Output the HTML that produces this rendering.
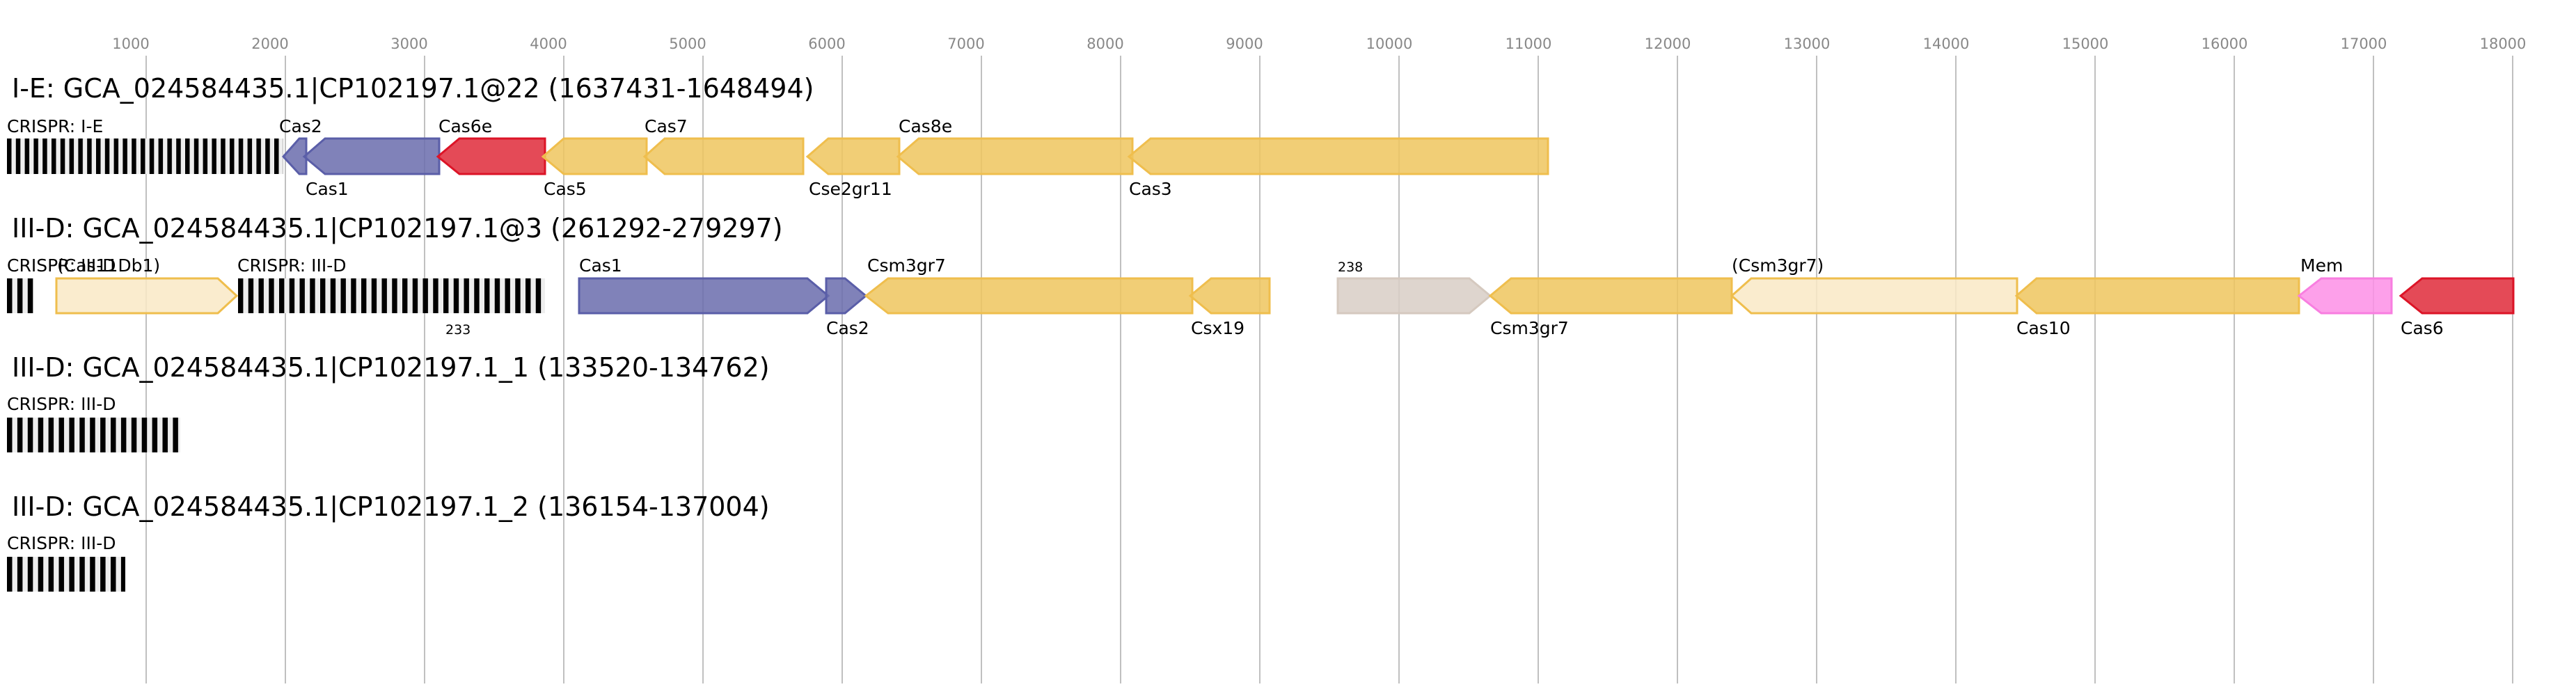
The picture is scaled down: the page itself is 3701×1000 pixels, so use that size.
<!DOCTYPE html>
<html><head><meta charset="utf-8"><style>
html,body{margin:0;padding:0;background:#fff;}
svg{display:block;}
text{font-family:"DejaVu Sans","Liberation Sans",sans-serif;}
</style></head><body>
<svg width="3701" height="1000" viewBox="0 0 3701 1000" xmlns="http://www.w3.org/2000/svg">
<defs>
<pattern id="c1" x="10" y="0" width="12.8" height="10" patternUnits="userSpaceOnUse"><rect width="12.8" height="10" fill="#eee"/><rect width="6.5" height="10" fill="#000"/></pattern>
<pattern id="c2" x="10" y="0" width="14.9" height="10" patternUnits="userSpaceOnUse"><rect width="14.9" height="10" fill="#eee"/><rect width="7.5" height="10" fill="#000"/></pattern>
<pattern id="c3" x="342" y="0" width="14.75" height="10" patternUnits="userSpaceOnUse"><rect width="14.75" height="10" fill="#eee"/><rect width="7.4" height="10" fill="#000"/></pattern>
</defs>
<g font-size="21" fill="#888" text-anchor="middle">
<text x="188" y="70">1000</text><text x="388" y="70">2000</text><text x="588" y="70">3000</text><text x="788" y="70">4000</text><text x="988" y="70">5000</text><text x="1188" y="70">6000</text><text x="1388" y="70">7000</text><text x="1588" y="70">8000</text><text x="1788" y="70">9000</text><text x="1996" y="70">10000</text><text x="2196" y="70">11000</text><text x="2396" y="70">12000</text><text x="2596" y="70">13000</text><text x="2796" y="70">14000</text><text x="2996" y="70">15000</text><text x="3196" y="70">16000</text><text x="3396" y="70">17000</text><text x="3596" y="70">18000</text>
</g>
<g stroke="#c0c0c0" stroke-width="2">
<line x1="210" y1="80" x2="210" y2="982"/><line x1="410" y1="80" x2="410" y2="982"/><line x1="610" y1="80" x2="610" y2="982"/><line x1="810" y1="80" x2="810" y2="982"/><line x1="1010" y1="80" x2="1010" y2="982"/><line x1="1210" y1="80" x2="1210" y2="982"/><line x1="1410" y1="80" x2="1410" y2="982"/><line x1="1610" y1="80" x2="1610" y2="982"/><line x1="1810" y1="80" x2="1810" y2="982"/><line x1="2010" y1="80" x2="2010" y2="982"/><line x1="2210" y1="80" x2="2210" y2="982"/><line x1="2410" y1="80" x2="2410" y2="982"/><line x1="2610" y1="80" x2="2610" y2="982"/><line x1="2810" y1="80" x2="2810" y2="982"/><line x1="3010" y1="80" x2="3010" y2="982"/><line x1="3210" y1="80" x2="3210" y2="982"/><line x1="3410" y1="80" x2="3410" y2="982"/><line x1="3610" y1="80" x2="3610" y2="982"/>
</g>
<g font-size="38" fill="#000">
<text x="17" y="140">I-E: GCA_024584435.1|CP102197.1@22 (1637431-1648494)</text>
<text x="17" y="341">III-D: GCA_024584435.1|CP102197.1@3 (261292-279297)</text>
<text x="17" y="541">III-D: GCA_024584435.1|CP102197.1_1 (133520-134762)</text>
<text x="17" y="741">III-D: GCA_024584435.1|CP102197.1_2 (136154-137004)</text>
</g>
<rect x="10" y="199" width="397" height="51" fill="url(#c1)"/>
<rect x="10" y="400" width="38" height="50" fill="url(#c2)"/>
<rect x="342" y="400" width="441" height="50" fill="url(#c3)"/>
<rect x="10" y="600" width="249" height="50" fill="url(#c2)"/>
<rect x="10" y="800" width="170" height="50" fill="url(#c2)"/>
<g stroke-width="3" fill-opacity="0.85">
<polygon points="407,225 430,199 440,199 440,250 430,250" fill="#6a6cad" stroke="#5a5ea8"/>
<polygon points="437,225 467,199 631,199 631,250 467,250" fill="#6a6cad" stroke="#5a5ea8"/>
<polygon points="629,225 660,199 783,199 783,250 660,250" fill="#df2a3a" stroke="#dc1427"/>
<polygon points="780,225 810,199 929,199 929,250 810,250" fill="#efc55e" stroke="#efbe4d"/>
<polygon points="926,225 955,199 1154,199 1154,250 955,250" fill="#efc55e" stroke="#efbe4d"/>
<polygon points="1160,225 1190,199 1292,199 1292,250 1190,250" fill="#efc55e" stroke="#efbe4d"/>
<polygon points="1290,225 1320,199 1627,199 1627,250 1320,250" fill="#efc55e" stroke="#efbe4d"/>
<polygon points="1622,225 1653,199 2224,199 2224,250 1653,250" fill="#efc55e" stroke="#efbe4d"/>
<polygon points="81,400 313,400 340,425 313,450 81,450" fill="#f9e9c6" stroke="#efbe4d"/>
<polygon points="832,400 1160,400 1190,425 1160,450 832,450" fill="#6a6cad" stroke="#5a5ea8"/>
<polygon points="1187,400 1214,400 1244,425 1214,450 1187,450" fill="#6a6cad" stroke="#5a5ea8"/>
<polygon points="1244,425 1276,400 1713,400 1713,450 1276,450" fill="#efc55e" stroke="#efbe4d"/>
<polygon points="1710,425 1740,400 1824,400 1824,450 1740,450" fill="#efc55e" stroke="#efbe4d"/>
<polygon points="1922,400 2111,400 2141,425 2111,450 1922,450" fill="#d8cec6" stroke="#d5c9bf"/>
<polygon points="2141,425 2171,400 2488,400 2488,450 2171,450" fill="#efc55e" stroke="#efbe4d"/>
<polygon points="2488,425 2516,400 2898,400 2898,450 2516,450" fill="#f9e9c6" stroke="#efbe4d"/>
<polygon points="2897,425 2926,400 3303,400 3303,450 2926,450" fill="#efc55e" stroke="#efbe4d"/>
<polygon points="3303,425 3335,400 3436,400 3436,450 3335,450" fill="#fd8fe6" stroke="#f87ee0"/>
<polygon points="3449,425 3480,400 3611,400 3611,450 3480,450" fill="#df2a3a" stroke="#dc1427"/>
</g>
<g font-size="25" fill="#000">
<text x="10" y="190">CRISPR: I-E</text>
<text x="401" y="190">Cas2</text>
<text x="439" y="280">Cas1</text>
<text x="630" y="190">Cas6e</text>
<text x="781" y="280">Cas5</text>
<text x="926" y="190">Cas7</text>
<text x="1162" y="280">Cse2gr11</text>
<text x="1291" y="190">Cas8e</text>
<text x="1622" y="280">Cas3</text>
<text x="10" y="390">CRISPR: III-D</text>
<text x="82" y="390">(Cas11Db1)</text>
<text x="341" y="390">CRISPR: III-D</text>
<text x="832" y="390">Cas1</text>
<text x="1187" y="480">Cas2</text>
<text x="1246" y="390">Csm3gr7</text>
<text x="1711" y="480">Csx19</text>
<text x="2141" y="480">Csm3gr7</text>
<text x="2488" y="390">(Csm3gr7)</text>
<text x="2897" y="480">Cas10</text>
<text x="3305" y="390">Mem</text>
<text x="3449" y="480">Cas6</text>
<text x="10" y="589">CRISPR: III-D</text>
<text x="10" y="789">CRISPR: III-D</text>
</g>
<g font-size="19" fill="#000">
<text x="640" y="480">233</text>
<text x="1922" y="390">238</text>
</g>
</svg>
</body></html>
